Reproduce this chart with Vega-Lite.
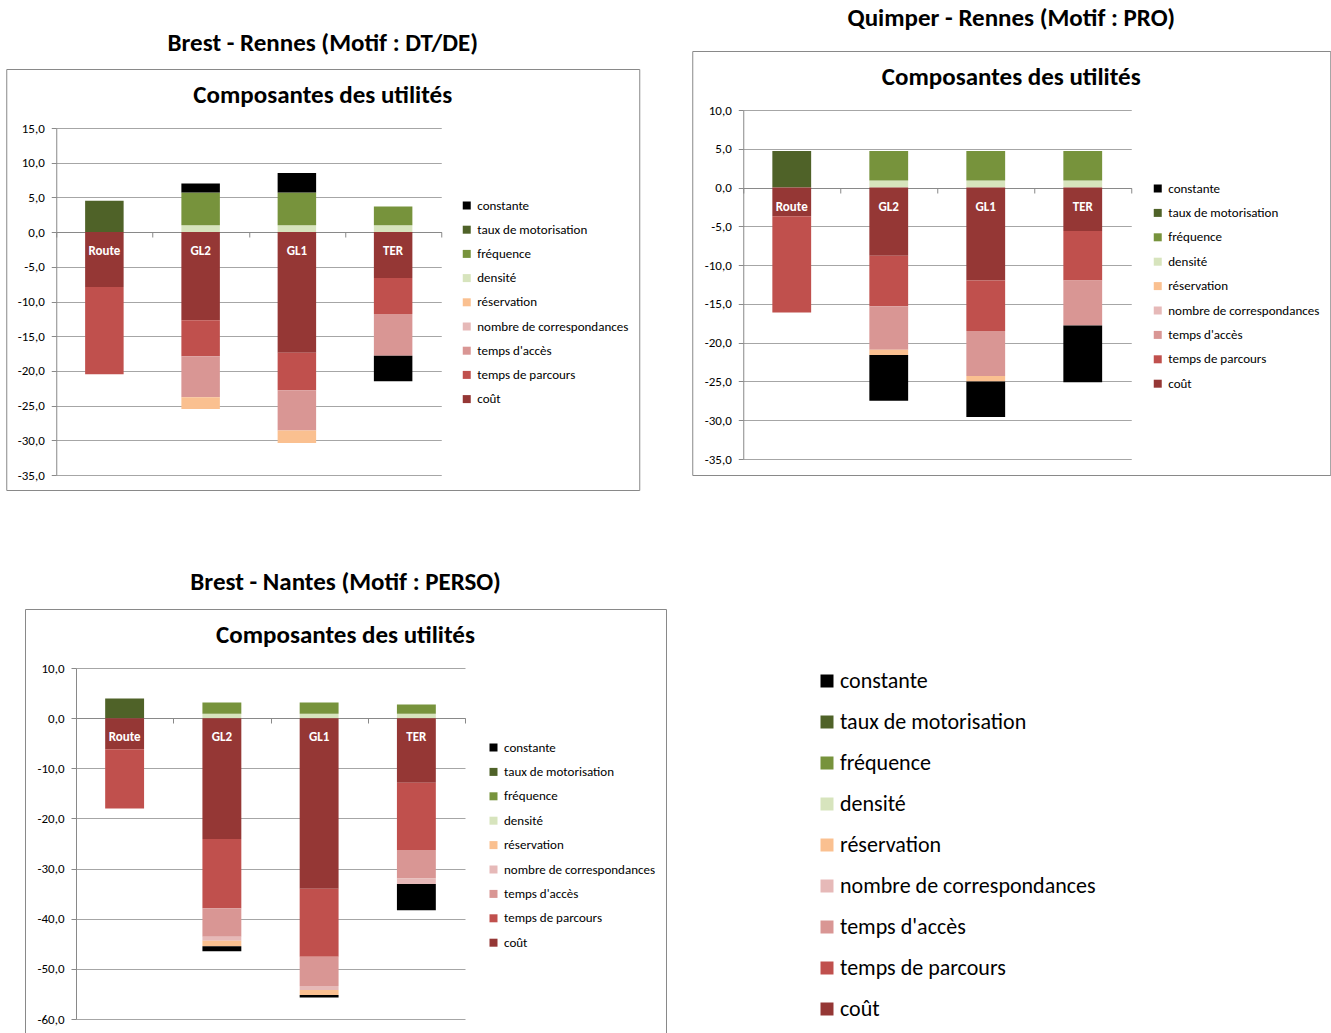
{
  "$schema": "https://vega.github.io/schema/vega-lite/v6.json",
  "background": "white",
  "padding": {"left": 5, "top": 2, "right": 0, "bottom": 0},
  "datasets": {
    "composantes": [
      {"composante": "coût", "rang": 1},
      {"composante": "temps de parcours", "rang": 2},
      {"composante": "temps d'accès", "rang": 3},
      {"composante": "nombre de correspondances", "rang": 4},
      {"composante": "réservation", "rang": 5},
      {"composante": "densité", "rang": 6},
      {"composante": "fréquence", "rang": 7},
      {"composante": "taux de motorisation", "rang": 8},
      {"composante": "constante", "rang": 9}
    ],
    "brestRennes": [
      {"mode": "Route", "composante": "taux de motorisation", "valeur": 4.5},
      {"mode": "Route", "composante": "coût", "valeur": -7.9},
      {"mode": "Route", "composante": "temps de parcours", "valeur": -12.6},
      {"mode": "GL2", "composante": "densité", "valeur": 1.0},
      {"mode": "GL2", "composante": "fréquence", "valeur": 4.7},
      {"mode": "GL2", "composante": "constante", "valeur": 1.3},
      {"mode": "GL2", "composante": "coût", "valeur": -12.7},
      {"mode": "GL2", "composante": "temps de parcours", "valeur": -5.2},
      {"mode": "GL2", "composante": "temps d'accès", "valeur": -5.9},
      {"mode": "GL2", "composante": "réservation", "valeur": -1.7},
      {"mode": "GL1", "composante": "densité", "valeur": 1.0},
      {"mode": "GL1", "composante": "fréquence", "valeur": 4.7},
      {"mode": "GL1", "composante": "constante", "valeur": 2.8},
      {"mode": "GL1", "composante": "coût", "valeur": -17.4},
      {"mode": "GL1", "composante": "temps de parcours", "valeur": -5.4},
      {"mode": "GL1", "composante": "temps d'accès", "valeur": -5.8},
      {"mode": "GL1", "composante": "réservation", "valeur": -1.8},
      {"mode": "TER", "composante": "densité", "valeur": 1.0},
      {"mode": "TER", "composante": "fréquence", "valeur": 2.7},
      {"mode": "TER", "composante": "coût", "valeur": -6.6},
      {"mode": "TER", "composante": "temps de parcours", "valeur": -5.2},
      {"mode": "TER", "composante": "temps d'accès", "valeur": -6.0},
      {"mode": "TER", "composante": "constante", "valeur": -3.7}
    ],
    "quimperRennes": [
      {"mode": "Route", "composante": "taux de motorisation", "valeur": 4.7},
      {"mode": "Route", "composante": "coût", "valeur": -3.7},
      {"mode": "Route", "composante": "temps de parcours", "valeur": -12.4},
      {"mode": "GL2", "composante": "densité", "valeur": 0.9},
      {"mode": "GL2", "composante": "fréquence", "valeur": 3.8},
      {"mode": "GL2", "composante": "coût", "valeur": -8.8},
      {"mode": "GL2", "composante": "temps de parcours", "valeur": -6.5},
      {"mode": "GL2", "composante": "temps d'accès", "valeur": -5.6},
      {"mode": "GL2", "composante": "réservation", "valeur": -0.7},
      {"mode": "GL2", "composante": "constante", "valeur": -5.9},
      {"mode": "GL1", "composante": "densité", "valeur": 0.9},
      {"mode": "GL1", "composante": "fréquence", "valeur": 3.8},
      {"mode": "GL1", "composante": "coût", "valeur": -12.0},
      {"mode": "GL1", "composante": "temps de parcours", "valeur": -6.5},
      {"mode": "GL1", "composante": "temps d'accès", "valeur": -5.8},
      {"mode": "GL1", "composante": "réservation", "valeur": -0.7},
      {"mode": "GL1", "composante": "constante", "valeur": -4.6},
      {"mode": "TER", "composante": "densité", "valeur": 0.9},
      {"mode": "TER", "composante": "fréquence", "valeur": 3.8},
      {"mode": "TER", "composante": "coût", "valeur": -5.6},
      {"mode": "TER", "composante": "temps de parcours", "valeur": -6.4},
      {"mode": "TER", "composante": "temps d'accès", "valeur": -5.8},
      {"mode": "TER", "composante": "constante", "valeur": -7.3}
    ],
    "brestNantes": [
      {"mode": "Route", "composante": "taux de motorisation", "valeur": 3.9},
      {"mode": "Route", "composante": "coût", "valeur": -6.2},
      {"mode": "Route", "composante": "temps de parcours", "valeur": -11.8},
      {"mode": "GL2", "composante": "densité", "valeur": 0.9},
      {"mode": "GL2", "composante": "fréquence", "valeur": 2.2},
      {"mode": "GL2", "composante": "coût", "valeur": -24.1},
      {"mode": "GL2", "composante": "temps de parcours", "valeur": -13.8},
      {"mode": "GL2", "composante": "temps d'accès", "valeur": -5.7},
      {"mode": "GL2", "composante": "nombre de correspondances", "valeur": -0.8},
      {"mode": "GL2", "composante": "réservation", "valeur": -1.1},
      {"mode": "GL2", "composante": "constante", "valeur": -1.0},
      {"mode": "GL1", "composante": "densité", "valeur": 0.9},
      {"mode": "GL1", "composante": "fréquence", "valeur": 2.2},
      {"mode": "GL1", "composante": "coût", "valeur": -34.0},
      {"mode": "GL1", "composante": "temps de parcours", "valeur": -13.6},
      {"mode": "GL1", "composante": "temps d'accès", "valeur": -5.8},
      {"mode": "GL1", "composante": "nombre de correspondances", "valeur": -0.8},
      {"mode": "GL1", "composante": "réservation", "valeur": -1.0},
      {"mode": "GL1", "composante": "constante", "valeur": -0.5},
      {"mode": "TER", "composante": "densité", "valeur": 0.9},
      {"mode": "TER", "composante": "fréquence", "valeur": 1.8},
      {"mode": "TER", "composante": "coût", "valeur": -12.9},
      {"mode": "TER", "composante": "temps de parcours", "valeur": -13.4},
      {"mode": "TER", "composante": "temps d'accès", "valeur": -5.7},
      {"mode": "TER", "composante": "nombre de correspondances", "valeur": -1.1},
      {"mode": "TER", "composante": "constante", "valeur": -5.2}
    ]
  },
  "resolve": {"scale": {"color": "independent"}, "legend": {"color": "independent"}},
  "spacing": 78,
  "center": true,
  "vconcat": [
    {
      "spacing": 51,
      "resolve": {"scale": {"color": "independent"}, "legend": {"color": "independent"}},
      "hconcat": [
        {
          "spacing": 0,
          "resolve": {"scale": {"color": "independent"}, "legend": {"color": "independent"}},
          "vconcat": [
            {"width": 1, "height": 28, "view": {"stroke": null}, "data": {"values": []}, "mark": "point"},
            {
              "width": 633,
              "height": 421,
              "title": {"text": "Brest - Rennes (Motif : DT/DE)", "subtitle": "Composantes des utilités", "subtitlePadding": 27, "offset": -39},
              "data": {"name": "brestRennes"},
              "transform": [{"lookup": "composante", "from": {"data": {"name": "composantes"}, "key": "composante", "fields": ["rang"]}}],
              "layer": [
                {
                  "mark": {"type": "bar", "width": {"band": 0.4}},
                  "encoding": {
                    "x": {"field": "mode", "type": "nominal", "sort": ["Route", "GL2", "GL1", "TER"],
                          "scale": {"range": [50, 435], "paddingInner": 0, "paddingOuter": 0},
                          "axis": {"orient": "bottom", "offset": -258, "labels": false, "title": null, "tickBand": "extent", "tickSize": 5, "grid": false}},
                    "y": {"field": "valeur", "type": "quantitative", "stack": "zero",
                          "scale": {"domain": [-35, 15], "range": [406, 59], "nice": false, "zero": false},
                          "axis": {"offset": -50, "values": [-35, -30, -25, -20, -15, -10, -5, 0, 5, 10, 15], "format": ".1f", "title": null}},
                    "color": {"field": "composante", "type": "nominal",
                              "scale": {"domain": ["constante", "taux de motorisation", "fréquence", "densité", "réservation", "nombre de correspondances", "temps d'accès", "temps de parcours", "coût"],
                                        "range": ["#000000", "#4F6228", "#77933C", "#D7E4BD", "#FAC090", "#E6B9B8", "#D99694", "#C0504D", "#953735"]},
                              "legend": {"orient": "none", "legendX": 454, "legendY": 130}},
                    "order": {"field": "rang", "type": "quantitative"}
                  }
                },
                {
                  "transform": [{"filter": "datum.composante === 'coût'"}],
                  "mark": {"type": "text", "color": "white", "fontWeight": "bold", "fontSize": 13, "dy": 19},
                  "encoding": {
                    "x": {"field": "mode", "type": "nominal", "sort": ["Route", "GL2", "GL1", "TER"]},
                    "y": {"datum": 0},
                    "text": {"field": "mode"}
                  }
                }
              ]
            }
          ]
        },
        {
          "spacing": 0,
          "resolve": {"scale": {"color": "independent"}, "legend": {"color": "independent"}},
          "vconcat": [
            {"width": 1, "height": 3, "view": {"stroke": null}, "data": {"values": []}, "mark": "point"},
            {
              "width": 638,
              "height": 424,
              "title": {"text": "Quimper - Rennes (Motif : PRO)", "subtitle": "Composantes des utilités", "subtitlePadding": 34, "offset": -39},
              "data": {"name": "quimperRennes"},
              "transform": [{"lookup": "composante", "from": {"data": {"name": "composantes"}, "key": "composante", "fields": ["rang"]}}],
              "layer": [
                {
                  "mark": {"type": "bar", "width": {"band": 0.4}},
                  "encoding": {
                    "x": {"field": "mode", "type": "nominal", "sort": ["Route", "GL2", "GL1", "TER"],
                          "scale": {"range": [51, 439], "paddingInner": 0, "paddingOuter": 0},
                          "axis": {"orient": "bottom", "offset": -287, "labels": false, "title": null, "tickBand": "extent", "tickSize": 5, "grid": false}},
                    "y": {"field": "valeur", "type": "quantitative", "stack": "zero",
                          "scale": {"domain": [-35, 10], "range": [408, 59], "nice": false, "zero": false},
                          "axis": {"offset": -51, "values": [-35, -30, -25, -20, -15, -10, -5, 0, 5, 10], "format": ".1f", "title": null}},
                    "color": {"field": "composante", "type": "nominal",
                              "scale": {"domain": ["constante", "taux de motorisation", "fréquence", "densité", "réservation", "nombre de correspondances", "temps d'accès", "temps de parcours", "coût"],
                                        "range": ["#000000", "#4F6228", "#77933C", "#D7E4BD", "#FAC090", "#E6B9B8", "#D99694", "#C0504D", "#953735"]},
                              "legend": {"orient": "none", "legendX": 459, "legendY": 131, "rowPadding": 10.4}},
                    "order": {"field": "rang", "type": "quantitative"}
                  }
                },
                {
                  "transform": [{"filter": "datum.composante === 'coût'"}],
                  "mark": {"type": "text", "color": "white", "fontWeight": "bold", "fontSize": 13, "dy": 19},
                  "encoding": {
                    "x": {"field": "mode", "type": "nominal", "sort": ["Route", "GL2", "GL1", "TER"]},
                    "y": {"datum": 0},
                    "text": {"field": "mode"}
                  }
                }
              ]
            }
          ]
        }
      ]
    },
    {
      "spacing": 33,
      "resolve": {"scale": {"color": "independent"}, "legend": {"color": "independent"}},
      "hconcat": [
        {
          "width": 641,
          "height": 440,
          "title": {"text": "Brest - Nantes (Motif : PERSO)", "subtitle": "Composantes des utilités", "subtitlePadding": 28, "offset": -39},
          "data": {"name": "brestNantes"},
          "transform": [{"lookup": "composante", "from": {"data": {"name": "composantes"}, "key": "composante", "fields": ["rang"]}}],
          "layer": [
            {
              "mark": {"type": "bar", "width": {"band": 0.4}},
              "encoding": {
                "x": {"field": "mode", "type": "nominal", "sort": ["Route", "GL2", "GL1", "TER"],
                      "scale": {"range": [51, 440], "paddingInner": 0, "paddingOuter": 0},
                      "axis": {"orient": "bottom", "offset": -331, "labels": false, "title": null, "tickBand": "extent", "tickSize": 5, "grid": false}},
                "y": {"field": "valeur", "type": "quantitative", "stack": "zero",
                      "scale": {"domain": [-60, 10], "range": [410, 59], "nice": false, "zero": false},
                      "axis": {"offset": -51, "values": [-60, -50, -40, -30, -20, -10, 0, 10], "format": ".1f", "title": null}},
                "color": {"field": "composante", "type": "nominal",
                          "scale": {"domain": ["constante", "taux de motorisation", "fréquence", "densité", "réservation", "nombre de correspondances", "temps d'accès", "temps de parcours", "coût"],
                                    "range": ["#000000", "#4F6228", "#77933C", "#D7E4BD", "#FAC090", "#E6B9B8", "#D99694", "#C0504D", "#953735"]},
                          "legend": {"orient": "none", "legendX": 462, "legendY": 132, "rowPadding": 10.4}},
                "order": {"field": "rang", "type": "quantitative"}
              }
            },
            {
              "transform": [{"filter": "datum.composante === 'coût'"}],
              "mark": {"type": "text", "color": "white", "fontWeight": "bold", "fontSize": 13, "dy": 19},
              "encoding": {
                "x": {"field": "mode", "type": "nominal", "sort": ["Route", "GL2", "GL1", "TER"]},
                "y": {"datum": 0},
                "text": {"field": "mode"}
              }
            }
          ]
        },
        {
          "width": 612,
          "height": 420,
          "view": {"stroke": null},
          "data": {"name": "composantes"},
          "mark": {"type": "square", "opacity": 0},
          "encoding": {
            "color": {"field": "composante", "type": "nominal",
                      "scale": {"domain": ["constante", "taux de motorisation", "fréquence", "densité", "réservation", "nombre de correspondances", "temps d'accès", "temps de parcours", "coût"],
                                "range": ["#000000", "#4F6228", "#77933C", "#D7E4BD", "#FAC090", "#E6B9B8", "#D99694", "#C0504D", "#953735"]},
                      "legend": {"orient": "none", "legendX": 116, "legendY": 61, "symbolSize": 169, "labelFontSize": 22, "rowPadding": 19, "labelOffset": 2, "symbolOpacity": 1}}
          }
        }
      ]
    }
  ],
  "config": {
    "font": "Carlito, Lato, sans-serif",
    "locale": {"number": {"decimal": ",", "thousands": " ", "grouping": [3], "currency": ["", " €"], "minus": "-"}},
    "view": {"stroke": "#898989", "strokeWidth": 1},
    "axis": {"domainColor": "#898989", "tickColor": "#898989", "gridColor": "#a6a6a6", "labelColor": "#000000", "labelFontSize": 13, "tickSize": 5, "labelPadding": 7},
    "legend": {"title": null, "symbolType": "square", "symbolSize": 64, "symbolStrokeWidth": 0, "labelFontSize": 13, "labelColor": "#000000", "rowPadding": 10.2, "labelOffset": 4, "labelLimit": 400, "padding": 0},
    "title": {"fontSize": 25, "fontWeight": "bold", "color": "#000000", "subtitleFontSize": 25, "subtitleFontWeight": "bold", "subtitleColor": "#000000", "anchor": "middle", "lineHeight": 24}
  }
}
